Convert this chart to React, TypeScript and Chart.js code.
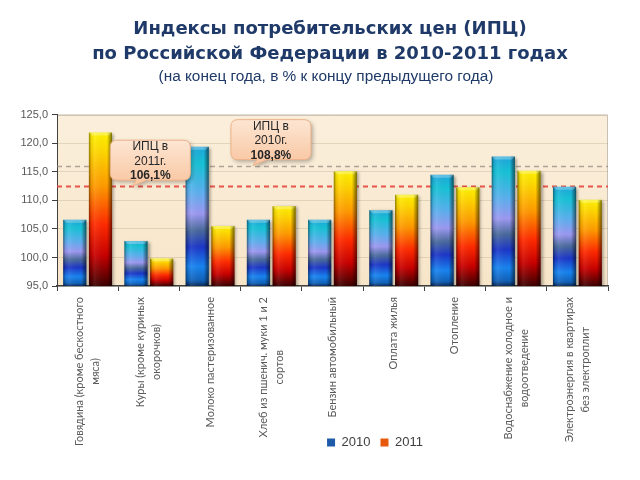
import React, { useEffect, useRef } from "react";
import { Chart, registerables } from "chart.js";

Chart.register(...registerables);

const titleLines = [
  "Индексы потребительских цен (ИПЦ)",
  "по Российской Федерации в 2010-2011 годах",
];
const subtitleText = "(на конец года, в % к концу предыдущего года)";

const categories: string[][] = [
  ["Говядина (кроме бескостного", "мяса)"],
  ["Куры (кроме куриных", "окорочков)"],
  ["Молоко пастеризованное"],
  ["Хлеб из пшенич. муки 1 и 2", "сортов"],
  ["Бензин автомобильный"],
  ["Оплата жилья"],
  ["Отопление"],
  ["Водоснабжение холодное и", "водоотведение"],
  ["Электроэнергия в квартирах", "без электроплит"],
];

const seriesNames = ["2010", "2011"];
const values2010 = [106.6, 102.9, 119.4, 106.6, 106.6, 108.3, 114.5, 117.7, 112.4];
const values2011 = [121.9, 99.8, 105.5, 109.0, 115.1, 111.0, 112.3, 115.2, 110.1];
const legendColors = ["#1d5aa8", "#e8580c"];

const yMin = 95;
const yMax = 125;
const yStep = 5;

// reference (dashed) lines: 2010 (grey), 2011 (red)
const refLineValues = [116.1, 112.5];
const refLineColors = ["rgba(150,140,130,0.75)", "rgba(230,70,60,0.9)"];
const refLineWidths = [1.5, 2];

// callouts
const calloutTexts = [
  ["ИПЦ в", "2011г.", "106,1%"],
  ["ИПЦ в", "2010г.", "108,8%"],
];
const calloutAnchorIndex = [0.73, 2.7];
const calloutAnchorValue = [112.5, 116.1];

const blueStops: [number, string][] = [
  [0, "#1fa6dc"],
  [0.12, "#16c2d6"],
  [0.32, "#5ab0ee"],
  [0.48, "#9c98f2"],
  [0.6, "#4a6a9c"],
  [0.72, "#1c36c8"],
  [0.86, "#1784f0"],
  [0.96, "#1060b8"],
  [1, "#0a2a58"],
];
const fireStops: [number, string][] = [
  [0, "#fff200"],
  [0.12, "#ffd800"],
  [0.35, "#ff9a00"],
  [0.6, "#ff2a00"],
  [0.8, "#c80000"],
  [1, "#3c0000"],
];

function makeBarColor(stops: [number, string][], fallback: string) {
  return (c: any) => {
    const chart = c.chart;
    if (c.type !== "data" || !chart.chartArea || !chart.scales.y) return fallback;
    const ys = chart.scales.y;
    const top = ys.getPixelForValue(c.raw as number);
    const bot = ys.getPixelForValue(ys.min);
    if (!isFinite(top) || !isFinite(bot) || Math.abs(bot - top) < 1) return fallback;
    const g = chart.ctx.createLinearGradient(0, top, 0, bot);
    stops.forEach(([o, col]) => g.addColorStop(o, col));
    return g;
  };
}

const plotPlugin = {
  id: "plotDecor",
  beforeDraw(chart: any) {
    const { ctx, chartArea: a } = chart;
    ctx.save();
    const g = ctx.createLinearGradient(0, a.top, 0, a.bottom);
    g.addColorStop(0, "#fbefdc");
    g.addColorStop(1, "#f7e5c8");
    ctx.fillStyle = g;
    ctx.fillRect(a.left, a.top, a.right - a.left, a.bottom - a.top);
    ctx.strokeStyle = "#c8c0b4";
    ctx.lineWidth = 1;
    ctx.beginPath();
    ctx.moveTo(a.left, a.top + 0.5);
    ctx.lineTo(a.right - 0.5, a.top + 0.5);
    ctx.lineTo(a.right - 0.5, a.bottom);
    ctx.stroke();
    ctx.restore();
  },
  beforeDatasetsDraw(chart: any) {
    const { ctx, chartArea: a } = chart;
    const ys = chart.scales.y;
    ctx.save();
    refLineValues.forEach((v, i) => {
      const y = Math.round(ys.getPixelForValue(v)) + 0.5;
      ctx.strokeStyle = refLineColors[i];
      ctx.lineWidth = refLineWidths[i];
      ctx.setLineDash([5, 4]);
      ctx.beginPath();
      ctx.moveTo(a.left, y);
      ctx.lineTo(a.right, y);
      ctx.stroke();
    });
    ctx.restore();
    ctx.save();
    ctx.shadowColor = "rgba(0,0,0,0.35)";
    ctx.shadowBlur = 3;
    ctx.shadowOffsetX = 2;
    ctx.shadowOffsetY = 1;
  },
  afterDatasetsDraw(chart: any) {
    const { ctx, chartArea: a } = chart;
    ctx.restore();
    ctx.save();
    ctx.beginPath();
    ctx.rect(a.left, a.top, a.right - a.left, a.bottom - a.top);
    ctx.clip();
    chart.data.datasets.forEach((_d: any, di: number) => {
      const meta = chart.getDatasetMeta(di);
      meta.data.forEach((el: any) => {
        const { x, y, base, width } = el.getProps(["x", "y", "base", "width"], true);
        const left = x - width / 2;
        const right = x + width / 2;
        const bottom = Math.min(base, a.bottom);
        const h = bottom - y;
        const g = ctx.createLinearGradient(left, 0, right, 0);
        g.addColorStop(0, "rgba(0,0,0,0.45)");
        g.addColorStop(0.1, "rgba(0,0,0,0.08)");
        g.addColorStop(0.25, "rgba(255,255,255,0.08)");
        g.addColorStop(0.78, "rgba(0,0,0,0)");
        g.addColorStop(0.9, "rgba(0,0,0,0.3)");
        g.addColorStop(1, "rgba(0,0,0,0.55)");
        ctx.fillStyle = g;
        ctx.fillRect(left, y, width, h);
        ctx.fillStyle = "rgba(255,255,255,0.28)";
        ctx.beginPath();
        ctx.moveTo(left, y);
        ctx.lineTo(right, y);
        ctx.lineTo(right - 3, y + 3);
        ctx.lineTo(left + 3, y + 3);
        ctx.closePath();
        ctx.fill();
      });
    });
    ctx.restore();
  },
  afterDraw(chart: any) {
    const { ctx } = chart;
    const xs = chart.scales.x;
    const ys = chart.scales.y;
    ctx.save();
    ctx.font = "11px Lato";
    ctx.fillStyle = "#5a5a5a";
    ctx.textAlign = "center";
    ctx.textBaseline = "middle";
    const lh = 16;
    categories.forEach((lines, i) => {
      const px = xs.getPixelForTick(i);
      const L = Math.max(...lines.map((s) => ctx.measureText(s).width));
      const y0 = xs.top + 11;
      lines.forEach((s, j) => {
        const lx = px + (j - (lines.length - 1) / 2) * lh;
        ctx.save();
        ctx.translate(lx, y0 + L / 2);
        ctx.rotate(-Math.PI / 2);
        ctx.fillText(s, 0, 0);
        ctx.restore();
      });
    });
    ctx.restore();

    calloutTexts.forEach((lines, i) => {
      const tx = xs.getPixelForValue(calloutAnchorIndex[i]);
      const ty = ys.getPixelForValue(calloutAnchorValue[i]);
      const bl = tx - 22;
      const br = tx + 58;
      const bt = ty - 46;
      const bb = ty - 6;
      ctx.save();
      ctx.shadowColor = "rgba(0,0,0,0.3)";
      ctx.shadowBlur = 4;
      ctx.shadowOffsetX = 2;
      ctx.shadowOffsetY = 2;
      const g = ctx.createLinearGradient(0, bt, 0, bb);
      g.addColorStop(0, "#fde6d3");
      g.addColorStop(1, "#f9c9a6");
      ctx.fillStyle = g;
      ctx.strokeStyle = "#eeb38a";
      ctx.lineWidth = 1;
      ctx.beginPath();
      const r = 7;
      ctx.moveTo(bl + r, bt);
      ctx.lineTo(br - r, bt);
      ctx.quadraticCurveTo(br, bt, br, bt + r);
      ctx.lineTo(br, bb - r);
      ctx.quadraticCurveTo(br, bb, br - r, bb);
      ctx.lineTo(tx + 14, bb);
      ctx.lineTo(tx, ty);
      ctx.lineTo(tx + 4, bb);
      ctx.lineTo(bl + r, bb);
      ctx.quadraticCurveTo(bl, bb, bl, bb - r);
      ctx.lineTo(bl, bt + r);
      ctx.quadraticCurveTo(bl, bt, bl + r, bt);
      ctx.closePath();
      ctx.fill();
      ctx.shadowColor = "transparent";
      ctx.stroke();
      ctx.fillStyle = "#262626";
      ctx.textAlign = "center";
      ctx.textBaseline = "middle";
      const cx = (bl + br) / 2;
      lines.forEach((s, j) => {
        ctx.font = (j === 2 ? "bold " : "") + '12px "Liberation Sans"';
        ctx.fillText(s, cx, bt + 7 + j * 14.5);
      });
      ctx.restore();
    });
  },
};

const boxShift = {
  id: "boxShift",
  afterLayout(chart: any) {
    const lg = chart.legend;
    if (lg) {
      lg.left += 71;
      lg.right += 71;
    }
    const t = chart.titleBlock;
    if (t) {
      t.left += 26;
      t.right += 26;
    }
    const st = chart.boxes.find((b: any) => b !== t && b.options && b.options.text === subtitleText);
    if (st) {
      st.left += 22;
      st.right += 22;
    }
  },
};

export default function App() {
  const ref = useRef<HTMLCanvasElement | null>(null);
  useEffect(() => {
    if (!ref.current) return;
    const chart = new Chart(ref.current, {
      type: "bar",
      data: {
        labels: categories.map((c) => c.join(" ")),
        datasets: [
          {
            label: seriesNames[0],
            data: values2010,
            backgroundColor: makeBarColor(blueStops, legendColors[0]),
            borderWidth: 0,
            categoryPercentage: 0.84,
            barPercentage: 0.9,
          },
          {
            label: seriesNames[1],
            data: values2011,
            backgroundColor: makeBarColor(fireStops, legendColors[1]),
            borderWidth: 0,
            categoryPercentage: 0.84,
            barPercentage: 0.9,
          },
        ],
      },
      options: {
        responsive: false,
        animation: false,
        devicePixelRatio: 1,
        layout: { padding: { left: 0, right: 32, top: 0, bottom: 21 } },
        plugins: {
          title: {
            display: true,
            text: titleLines,
            color: "#1f3a68",
            font: { family: "DejaVu Sans", size: 18, weight: "bold", lineHeight: 1.4 },
            padding: { top: 17, bottom: 0 },
          },
          subtitle: {
            display: true,
            text: subtitleText,
            color: "#1f3a68",
            font: { family: "Liberation Sans", size: 15.4, lineHeight: 1.2 },
            padding: { top: 0, bottom: 29 },
          },
          legend: {
            position: "bottom",
            labels: {
              boxWidth: 8,
              boxHeight: 8,
              padding: 10,
              color: "#404040",
              font: { family: "Liberation Sans", size: 13 },
              generateLabels: (ch: any) => {
                const items = (Chart.defaults.plugins.legend.labels as any).generateLabels(ch);
                return items.map((it: any, i: number) => ({
                  ...it,
                  fillStyle: legendColors[i],
                  strokeStyle: legendColors[i],
                  lineWidth: 0,
                }));
              },
            },
          },
          tooltip: { enabled: false },
        },
        scales: {
          x: {
            ticks: { display: false },
            grid: {
              display: true,
              drawOnChartArea: false,
              drawTicks: true,
              tickLength: 5,
              color: "#404040",
            },
            border: { color: "#404040", width: 1.5 },
            afterFit: (s: any) => {
              s.height = 140;
            },
          },
          y: {
            min: yMin,
            max: yMax,
            ticks: {
              stepSize: yStep,
              padding: 4,
              color: "#595959",
              font: { family: "Liberation Sans", size: 11 },
              callback: (v: any) => Number(v).toFixed(1).replace(".", ","),
            },
            grid: {
              color: "rgba(170,150,120,0.28)",
              tickColor: "#404040",
              tickLength: 5,
            },
            border: { color: "#404040", width: 1 },
            afterFit: (s: any) => {
              s.width = 57;
            },
          },
        },
      },
      plugins: [plotPlugin, boxShift],
    });
    return () => chart.destroy();
  }, []);
  return (
    <div style={{ position: "fixed", left: 0, top: 0, width: 640, height: 480, background: "#fff" }}>
      <canvas ref={ref} width={640} height={480} />
    </div>
  );
}
